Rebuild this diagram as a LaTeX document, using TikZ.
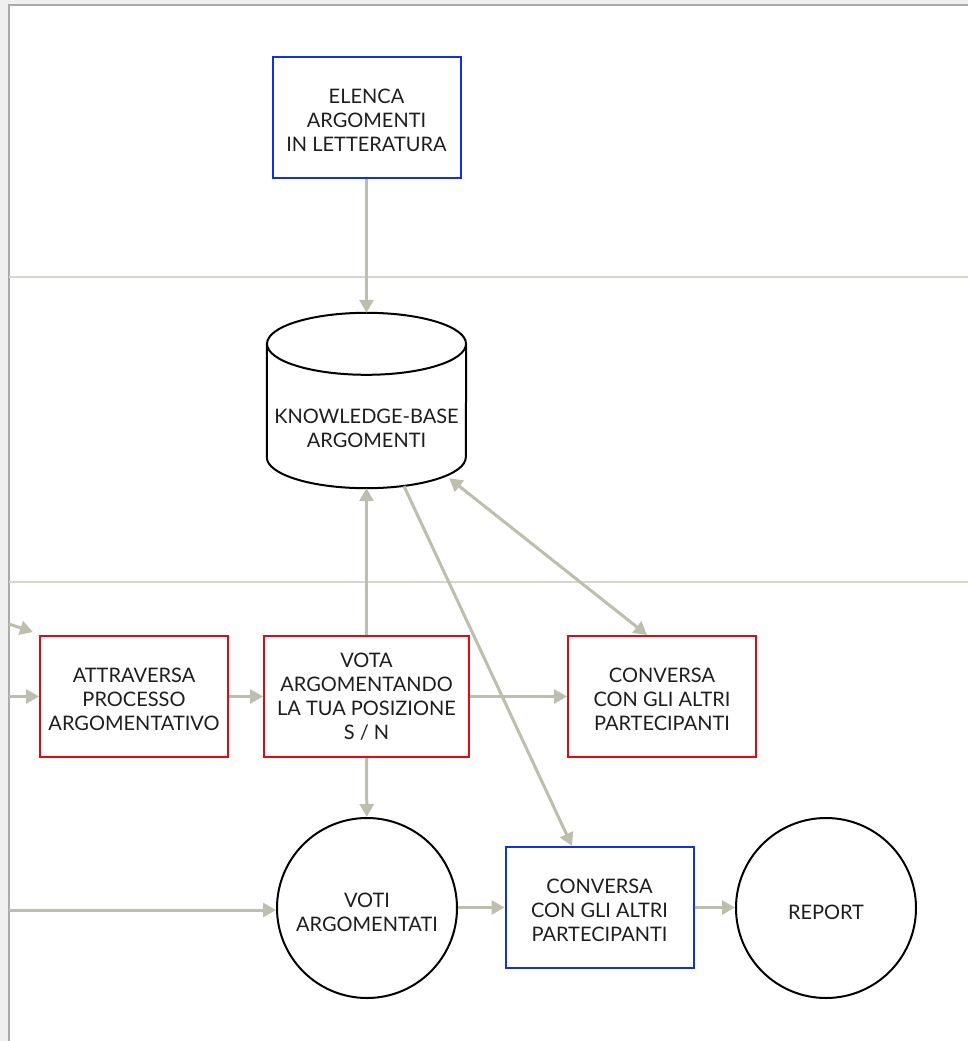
\documentclass[tikz,border=0pt]{standalone}
\usepackage{fontspec}
\setmainfont{Lato}
\usetikzlibrary{calc}
\usetikzlibrary{arrows.meta}
\usetikzlibrary{positioning}
\definecolor{flowgray}{RGB}{190,190,174}
\definecolor{sepgray}{RGB}{214,214,206}
\definecolor{framegray}{RGB}{240,240,240}
\definecolor{edgegray}{RGB}{170,170,170}
\definecolor{boxblue}{RGB}{20,45,230}
\definecolor{boxred}{RGB}{222,12,18}
\definecolor{textdark}{RGB}{30,30,30}
% taller first line, pushes the text block down a little
\newcommand{\lowr}[1]{\rule{0pt}{#1}}

\begin{document}
\begin{tikzpicture}[x=1pt,y=-1pt,
    >={Triangle[length=13pt,width=14pt]},
    flow/.style={flowgray,line width=3pt},
    txt/.style={align=center,text=textdark,font=\fontsize{20}{24}\selectfont},
    task/.style={txt,draw,line width=2pt,minimum width=188pt,
      minimum height=121pt,inner sep=0pt},
    bluetask/.style={task,draw=boxblue},
    redtask/.style={task,draw=boxred},
    store/.style={txt,circle,draw=black,line width=2pt,minimum size=180pt,
      inner sep=0pt}]
  \useasboundingbox (0,0) rectangle (968,1041);
  % page frame and lanes
  \fill[framegray] (0,0) rectangle (968,1041);
  \fill[white] (9,5) rectangle (968,1041);
  \draw[edgegray,line width=1.5pt] (9,1041) -- (9,5) -- (968,5);
  \foreach \y in {277,582} {
      \draw[sepgray,line width=2pt] (9,\y) -- (968,\y);
    }

  \node[bluetask] (lit) at (366.5,117.5)
    {\lowr{20pt}ELENCA\\ARGOMENTI\\IN LETTERATURA};

  % knowledge base drum
  \node[minimum width=199pt,minimum height=175pt,inner sep=0pt] (kb)
    at (366.5,400.5) {};
  \draw[black,line width=2pt] ($(kb.north)+(0,31)$)
    ellipse [x radius=99.5,y radius=31];
  \draw[black,line width=2pt] ($(kb.north west)+(0,31)$)
    -- ($(kb.south west)+(0,-31)$)
    arc [start angle=180,end angle=0,x radius=99.5,y radius=31]
    -- ($(kb.north east)+(0,31)$);
  \node[txt] (kbtext) at ($(kb.center)+(0,27.5)$) {KNOWLEDGE-BASE\\ARGOMENTI};

  \node[redtask] (walk) at (134,696.5)
    {\lowr{20pt}ATTRAVERSA\\PROCESSO\\ARGOMENTATIVO};
  \node[redtask,minimum width=205pt] (vote) at (366.5,696.5)
    {VOTA\\ARGOMENTANDO\\LA TUA POSIZIONE\\S / N};
  \node[redtask] (talk) at (662,696.5)
    {\lowr{20pt}CONVERSA\\CON GLI ALTRI\\PARTECIPANTI};

  \node[store] (votes) at (367,908) {\lowr{24pt}VOTI\\ARGOMENTATI};
  \node[bluetask] (chat) at (599.5,907.5)
    {\lowr{20pt}CONVERSA\\CON GLI ALTRI\\PARTECIPANTI};
  \node[store] (report) at (826,908) {\lowr{24pt}REPORT};

  \coordinate (inwalk) at (9,696.5);
  \coordinate (invotes) at (9,910);
  \coordinate (intop) at (9,624);
  \coordinate (intoptip) at (33,632);

  \draw[flow,->] (lit) -- (kb);
  \draw[flow,->] (vote) -- (kb);
  \draw[flow,->] ($(kb.south)+(37.5,-2)$) -- ([xshift=-27.5pt]chat.north);
  \draw[flow,<->] ($(kb.south east)+(-17,-10)$) -- ([xshift=-15pt]talk.north);
  \draw[flow,->] (walk) -- (vote);
  \draw[flow,->] (vote) -- (talk);
  \draw[flow,->] (vote) -- (votes);
  \draw[flow,->] (votes.east |- chat) -- (chat);
  \draw[flow,->] (chat) -- (report.west |- chat);
  \draw[flow,->] (inwalk) -- (walk);
  \draw[flow,->] (invotes) -- (votes.west |- invotes);
  \draw[flow,->] (intop) -- (intoptip);
\end{tikzpicture}
\end{document}
